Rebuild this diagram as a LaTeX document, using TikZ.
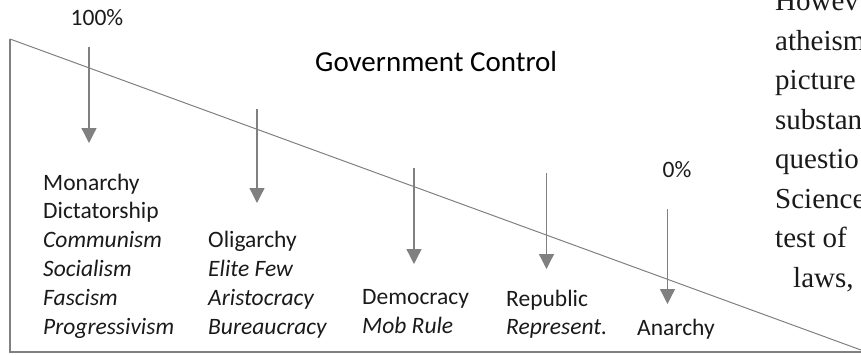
\documentclass[tikz,border=0pt]{standalone}
\usepackage{fontspec}
\setmainfont{Carlito}
\newfontfamily\rightserif{Liberation Serif}
\usetikzlibrary{arrows.meta}
\definecolor{linegrey}{HTML}{808080}
\definecolor{txt}{HTML}{1A1A1A}
\begin{document}
\begin{tikzpicture}[x=1pt,y=-1pt,
  frameline/.style={draw=linegrey, line width=1.4pt},
  slopeline/.style={draw=linegrey, line width=1pt},
  downarrow/.style={draw=linegrey, line width=1.3pt, -{Triangle[width=15pt,length=15pt]}},
  lbl/.style={anchor=north west, inner sep=0pt, align=left, text=txt, font=\fontsize{23.5}{28.9}\selectfont},
  pct/.style={anchor=base, inner sep=0pt, text=txt, font=\fontsize{23.5}{28.9}\selectfont},
  titlelbl/.style={anchor=base west, inner sep=0pt, text=black, font=\fontsize{29}{34}\selectfont},
  bodytext/.style={anchor=base west, inner sep=0pt, text=txt, font=\rightserif\fontsize{29}{34}\selectfont}
]
\useasboundingbox (0,0) rectangle (861,354);

% frame
\coordinate (tl) at (10,39);
\coordinate (bl) at (10,352);
\coordinate (br) at (861,352);
\coordinate (sr) at (861,350);
\draw[frameline] (tl) -- (bl) -- (br);
\draw[slopeline] (tl) -- (sr);

% texts
\node[titlelbl] (title) at (315,71) {Government Control};
\node[pct] (p100) at (97,25) {100\%};
\node[pct] (p0) at (677,177) {0\%};

% first-line baselines: 190, 248, 306, 306, 335 (cap/ascender top ~ 16.5 above)
\node[lbl] (mon) at (43,173.5) {Monarchy\\Dictatorship\\\textit{Communism}\\\textit{Socialism}\\\textit{Fascism}\\\textit{Progressivism}};
\node[lbl] (oli) at (208,231.3) {Oligarchy\\\textit{Elite Few}\\\textit{Aristocracy}\\\textit{Bureaucracy}};
\node[lbl] (dem) at (362,289.5) {Democracy\\\textit{Mob Rule}};
\node[lbl] (rep) at (506,289.5) {Republic\\\textit{Represent.}};
\node[pct, anchor=base west] (ana) at (637,335) {Anarchy};

% arrows
\coordinate (a1s) at (89,47);   \coordinate (a1e) at (89,143);
\coordinate (a2s) at (257,109); \coordinate (a2e) at (257,203);
\coordinate (a3s) at (414,168); \coordinate (a3e) at (414,264);
\coordinate (a4s) at (546.5,173); \coordinate (a4e) at (546.5,269);
\coordinate (a5s) at (667.5,209); \coordinate (a5e) at (667.5,304);
\draw[downarrow] (a1s) -- (a1e);
\draw[downarrow] (a2s) -- (a2e);
\draw[downarrow] (a3s) -- (a3e);
\draw[downarrow] (a4s) -- (a4e);
\draw[downarrow] (a5s) -- (a5e);

% cut-off body text on the right
\node[bodytext] (t1) at (775,10.5) {Howev};
\node[bodytext] (t2) at (775,50) {atheism};
\node[bodytext] (t3) at (775,89.5) {picture};
\node[bodytext] (t4) at (775,129) {substan};
\node[bodytext] (t5) at (775,168.5) {questio};
\node[bodytext] (t6) at (775,208) {Science};
\node[bodytext] (t7) at (775,247.5) {test of};
\node[bodytext] (t8) at (793,287) {laws,};
\end{tikzpicture}
\end{document}
